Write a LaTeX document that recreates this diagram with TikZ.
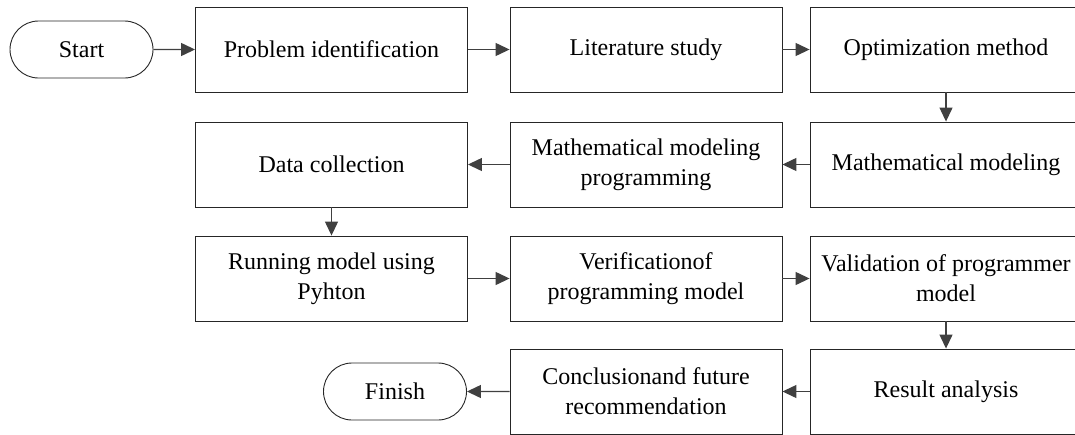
\documentclass[tikz,border=0pt]{standalone}
\usepackage{fontspec}
\setmainfont{Liberation Serif}
\usetikzlibrary{arrows.meta}
\usetikzlibrary{shapes.misc}

\begin{document}
\begin{tikzpicture}[x=1pt,y=-1pt]
    \tikzstyle{edge}=[draw=black!75,line width=1.3pt,-{Triangle[length=14pt,width=13pt]}]
    \tikzstyle{stepbox}=[rectangle,draw=black!85,line width=0.9pt,fill=white,minimum width=272pt,minimum height=85pt,inner sep=0pt,align=center,font=\fontsize{24}{30}\selectfont]
    \tikzstyle{terminal}=[rounded rectangle,draw=black!85,line width=0.9pt,fill=white,minimum width=143pt,minimum height=57pt,inner sep=0pt,font=\fontsize{24}{30}\selectfont]

    \useasboundingbox (0,0) rectangle (1075,434);

    \def\cA{331.5}
    \def\cB{646}
    \def\cC{946}

    \def\rA{49.5}
    \def\rB{164.5}
    \def\rC{278.5}
    \def\rD{391.5}

    \node[terminal] (start)  at (81.5,\rA) {Start};
    \node[stepbox] (prob)    at (\cA,\rA) {Problem identification};
    \node[stepbox] (lit)     at (\cB,\rA) {Literature study};
    \node[stepbox] (optim)   at (\cC,\rA) {Optimization method};

    \node[stepbox] (data)    at (\cA,\rB) {Data collection};
    \node[stepbox] (mmprog)  at (\cB,\rB) {Mathematical modeling\\programming};
    \node[stepbox] (mmodel)  at (\cC,\rB) {Mathematical modeling};

    \node[stepbox] (run)     at (\cA,\rC) {Running model using\\Pyhton};
    \node[stepbox] (verif)   at (\cB,\rC) {Verificationof\\programming model};
    \node[stepbox] (valid)   at (\cC,\rC) {Validation of programmer\\model};

    \node[terminal] (finish) at (395,\rD) {Finish};
    \node[stepbox] (concl)   at (\cB,\rD) {Conclusionand future\\recommendation};
    \node[stepbox] (result)  at (\cC,\rD) {Result analysis};

    \path[edge] (start) -- (prob);
    \path[edge] (prob) -- (lit);
    \path[edge] (lit) -- (optim);
    \path[edge] (optim) -- (mmodel);

    \path[edge] (mmodel) -- (mmprog);
    \path[edge] (mmprog) -- (data);
    \path[edge] (data) -- (run);

    \path[edge] (run) -- (verif);
    \path[edge] (verif) -- (valid);
    \path[edge] (valid) -- (result);

    \path[edge] (result) -- (concl);
    \path[edge] (concl) -- (finish);
\end{tikzpicture}
\end{document}
